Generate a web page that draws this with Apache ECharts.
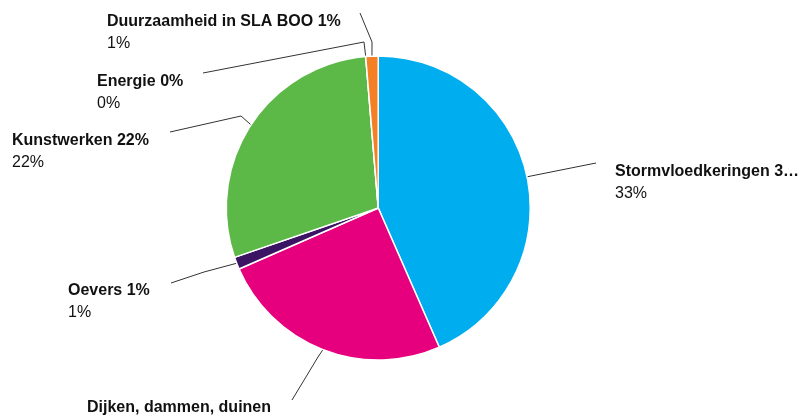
<!DOCTYPE html>
<html>
<head>
<meta charset="utf-8">
<script src="https://cdn.jsdelivr.net/npm/echarts@6/dist/echarts.min.js"></script>
<style>
html,body{margin:0;padding:0;background:#fff;}
#chart{width:798px;height:416px;}
</style>
</head>
<body>
<div id="chart"></div>
<script>
// categories + values (percent shown in labels)
var categories = ['Stormvloedkeringen', 'Dijken, dammen, duinen', 'Oevers', 'Kunstwerken', 'Energie', 'Duurzaamheid in SLA BOO'];
var values = [33, 19, 1, 22, 0, 1];
var colors = ['#00AEEF', '#E6007E', '#3B1464', '#5CB947', '#8A8A8A', '#F47F24'];

// where each label sits (top-left of text) and how its leader line runs
var labelPlace = [
    {x: 615, y: 161, bend: [561, 170], end: [596, 163]},
    {x: 87,  y: 397, bend: [318, 357], end: [292, 400]},
    {x: 68,  y: 280, bend: [204, 272], end: [171, 283]},
    {x: 12,  y: 130, bend: [241, 116], end: [170, 132]},
    {x: 97,  y: 71,  bend: [364, 42],  end: [203, 73]},
    {x: 107, y: 11,  bend: [372, 42],  end: [360, 13]}
];

var chart = echarts.init(document.getElementById('chart'));
var seriesData = [];
for (var i = 0; i < categories.length; i++) {
    var item = {name: categories[i], value: values[i], itemStyle: {color: colors[i]}};
    if (i == 0) item.label = {width: 190, overflow: 'truncate', ellipsis: '…'};
    if (i == 1) item.label = {width: 200, overflow: 'break'};
    seriesData.push(item);
}

var option = {
    animation: false,
    series: [{
        type: 'pie',
        center: ['47.4%', '50%'],
        radius: 152,
        startAngle: 90,
        clockwise: true,
        itemStyle: {borderColor: '#fff', borderWidth: 1.5},
        label: {
            show: true,
            formatter: function (p) {
                return '{b|' + p.name + ' ' + p.value + '%}\n{v|' + p.value + '%}';
            },
            rich: {
                b: {fontFamily: 'Liberation Sans', fontWeight: 'bold', fontSize: 16, color: '#111', lineHeight: 22, align: 'left'},
                v: {fontFamily: 'Liberation Sans', fontSize: 16, color: '#111', lineHeight: 22, align: 'left'}
            }
        },
        labelLine: {
            show: true,
            length: 10,
            length2: 60,
            lineStyle: {color: '#333', width: 1}
        },
        labelLayout: function (params) {
            var p = labelPlace[params.dataIndex];
            var start = params.labelLinePoints ? params.labelLinePoints[0] : p.bend;
            return {
                x: p.x,
                y: p.y,
                align: 'left',
                verticalAlign: 'top',
                labelLinePoints: [[start[0], start[1]], p.bend, p.end]
            };
        },
        data: seriesData
    }]
};
chart.setOption(option);
</script>
</body>
</html>
